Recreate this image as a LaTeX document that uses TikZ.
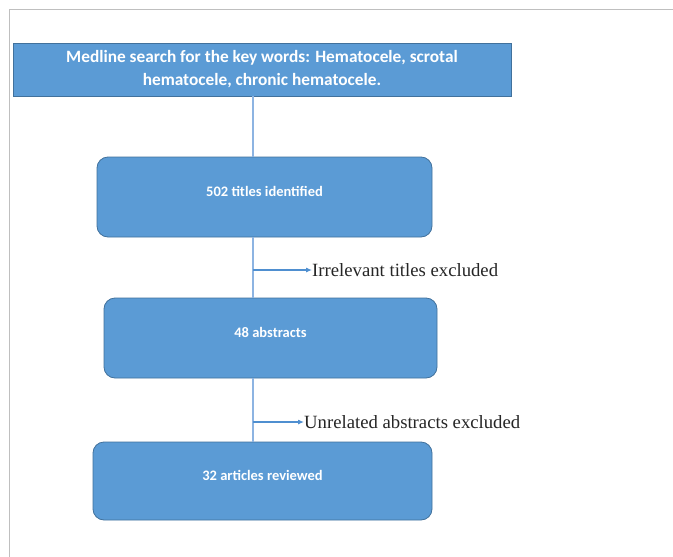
\documentclass[tikz,border=0pt]{standalone}
\usepackage{fontspec}
\setmainfont{Liberation Serif}
\newfontfamily\boxfont{Carlito}
\usetikzlibrary{arrows.meta}
\definecolor{boxfill}{HTML}{5B9BD5}
\definecolor{boxedge}{HTML}{41719C}
\definecolor{spinecol}{HTML}{8DB4E2}
\definecolor{branchcol}{HTML}{4F8FD0}
\definecolor{framecol}{HTML}{BFBFBF}
\tikzset{
  topbox/.style={rectangle, draw=boxedge, line width=0.8pt, fill=boxfill, text=white,
    font=\boxfont\bfseries\fontsize{17.3}{23}\selectfont, align=center, inner sep=0pt},
  stagebox/.style={rectangle, rounded corners=11pt, draw=boxedge, line width=0.8pt, fill=boxfill, text=white,
    font=\boxfont\bfseries\fontsize{14.5}{17}\selectfont, align=center, inner sep=0pt, text depth=12pt},
  sidelabel/.style={anchor=west, inner sep=0pt, font=\fontsize{18.7}{22}\selectfont, text=black!85},
  spine/.style={draw=spinecol, line width=1.3pt},
  branch/.style={draw=branchcol, line width=1.1pt, -{Latex[length=6pt,width=5pt]}},
  frameline/.style={draw=framecol, line width=1pt}
}
\begin{document}
\begin{tikzpicture}[x=1pt,y=-1pt]
\useasboundingbox (0,0) rectangle (673,557);
\fill[white] (0,0) rectangle (673,557);
\draw[frameline] (9,557) -- (9,9) -- (673,9);
\coordinate (sp) at (253,0);
\node[topbox, minimum width=498pt, minimum height=53pt] (top) at (262,69.5)
  {Medline search for the key words: Hematocele, scrotal\\hematocele, chronic hematocele.};
\node[stagebox, minimum width=335pt, minimum height=80pt] (b1) at (264.5,197) {502 titles identified};
\node[stagebox, minimum width=333pt, minimum height=80pt] (b2) at (270.5,338) {48 abstracts};
\node[stagebox, minimum width=339pt, minimum height=78pt] (b3) at (262.5,481) {32 articles reviewed};
\node[sidelabel] (l1) at (312,270) {Irrelevant titles excluded};
\node[sidelabel] (l2) at (304,422) {Unrelated abstracts excluded};
\draw[spine] (top.south -| sp) -- (b1.north -| sp);
\draw[spine] (b1.south -| sp) -- (b2.north -| sp);
\draw[spine] (b2.south -| sp) -- (b3.north -| sp);
\draw[branch] (l1.west -| sp) -- (l1.west);
\draw[branch] (l2.west -| sp) -- (l2.west);
\end{tikzpicture}
\end{document}
